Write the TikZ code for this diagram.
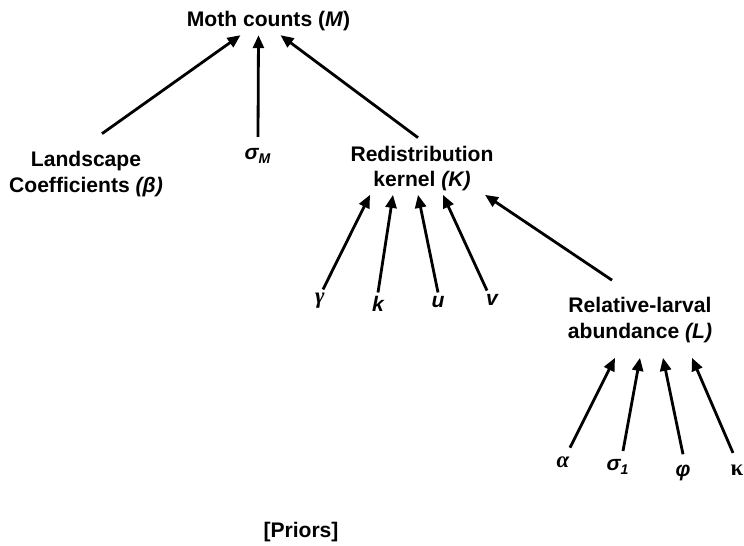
\documentclass[tikz,border=0pt]{standalone}
\usepackage{fontspec}
\setmainfont{Liberation Sans}
\newfontfamily\grkfont{Liberation Serif}
\usetikzlibrary{arrows.meta}

\begin{document}
\begin{tikzpicture}[font=\fontsize{12}{14.4}\selectfont\bfseries]
\tikzset{
    VAR/.style={align=center, inner sep=2pt},
    PR/.style={inner sep=2pt, font=\fontsize{12}{14.4}\selectfont\bfseries\itshape},
    GRK/.style={inner sep=2pt, font=\fontsize{13}{14.4}\selectfont\grkfont\bfseries\itshape},
    ARR/.style={-{Triangle[length=0.26cm, width=0.22cm]}, line width=1.6pt},
}
\useasboundingbox (0,0) rectangle (14.88,-10.90);

%── Model nodes ────────────────────────────────────────────────
\node[VAR] (M)    at (5.37, -0.43) {Moth counts (\textit{M})};
\node[VAR] (beta) at (1.72, -3.48) {Landscape\\Coefficients \textit{(β)}};
\node[PR]  (sigM) at (5.16, -3.12) {σ\textsubscript{\textit{M}}};
\node[VAR] (K)    at (8.44, -3.37) {Redistribution\\kernel \textit{(K)}};
\node[VAR] (L)    at (12.80, -6.40) {Relative-larval\\abundance \textit{(L)}};

%── Kernel parameters ──────────────────────────────────────────
\node[GRK] (gam) at (6.40, -6.02) {γ};
\node[PR]  (kk)  at (7.56, -6.08) {k};
\node[PR]  (uu)  at (8.76, -6.04) {u};
\node[PR]  (vv)  at (9.84, -6.00) {v};

%── Larval parameters ──────────────────────────────────────────
\node[GRK] (alp) at (11.26, -9.24) {α};
\node[PR]  (sg1) at (12.36, -9.34) {σ\textsubscript{1}};
\node[PR]  (phi) at (13.66, -9.46) {φ};
\node[GRK] (kap) at (14.74, -9.40) {\upshape κ};

\node[VAR] (pri) at (6.02, -10.64) {[Priors]};

%── Arrows into M ──────────────────────────────────────────────
\draw[ARR] ([shift={(0.32,0.28)}]beta.north) -- ([xshift=-0.56cm]M.south);
\draw[ARR] ([yshift=0.16cm]sigM.north)      -- ([xshift=-0.20cm]M.south);
\draw[ARR] ([shift={(-0.08,0.09)}]K.north)  -- ([xshift=0.24cm]M.south);

%── Arrows into K ──────────────────────────────────────────────
\draw[ARR] ([xshift=0.06cm]gam.north) -- ([xshift=-1.04cm]K.south);
\draw[ARR] (kk.north)                 -- ([xshift=-0.58cm]K.south);
\draw[ARR] (uu.north)                 -- ([xshift=-0.08cm]K.south);
\draw[ARR] ([xshift=-0.10cm]vv.north) -- ([xshift=0.42cm]K.south);
\draw[ARR] ([shift={(-0.56,0.27)}]L.north) -- ([xshift=1.26cm]K.south);

%── Arrows into L ──────────────────────────────────────────────
\draw[ARR] ([shift={(0.14,0.10)}]alp.north)  -- ([shift={(-0.50,-0.23)}]L.south);
\draw[ARR] ([shift={(0.10,0.10)}]sg1.north)  -- ([yshift=-0.23cm]L.south);
\draw[ARR] ([yshift=0.14cm]phi.north)        -- ([shift={(0.46,-0.23)}]L.south);
\draw[ARR] ([shift={(-0.08,0.16)}]kap.north) -- ([shift={(1.04,-0.23)}]L.south);

\end{tikzpicture}
\end{document}
